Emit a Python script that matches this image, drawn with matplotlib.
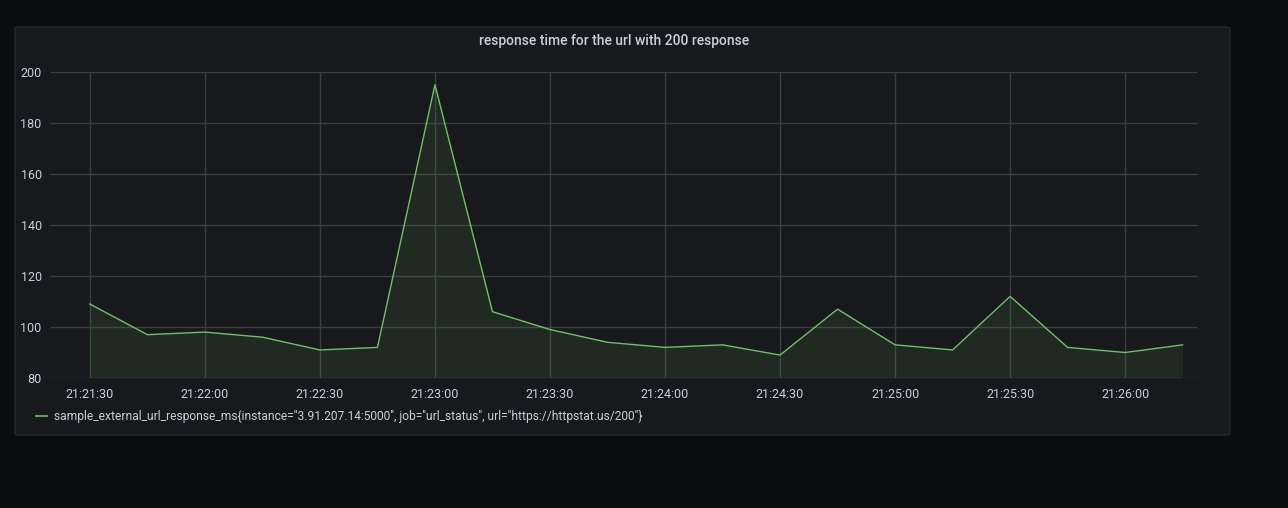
import pandas as pd
import matplotlib
matplotlib.use("Agg")
import matplotlib.pyplot as plt
import matplotlib.dates as mdates
from matplotlib.patches import FancyBboxPatch

# Sample times (every 15 s) and response values in ms
times = ["21:21:30", "21:21:45", "21:22:00", "21:22:15", "21:22:30", "21:22:45",
         "21:23:00", "21:23:15", "21:23:30", "21:23:45", "21:24:00", "21:24:15",
         "21:24:30", "21:24:45", "21:25:00", "21:25:15", "21:25:30", "21:25:45",
         "21:26:00", "21:26:15"]
values = [109, 97, 98, 96, 91, 92, 195, 106, 99, 94, 92, 93, 89, 107, 93, 91,
          112, 92, 90, 93]
yticks = [80, 100, 120, 140, 160, 180, 200]
title = "response time for the url with 200 response"
legend_label = ('sample_external_url_response_ms{instance="3.91.207.14:5000", '
                'job="url_status", url="https://httpstat.us/200"}')

x = pd.to_datetime(["2023-01-01 " + t for t in times])

plt.rcParams['font.family'] = ['Roboto', 'DejaVu Sans']
text_col = "#ccccdc"
line_col = "#73bf69"
grid_col = "#3b3d41"

W, H = 1288, 508
fig = plt.figure(figsize=(W / 100, H / 100), dpi=100)
fig.patch.set_facecolor("#0b0c0e")

# Panel box (drawn behind the axes)
panel = FancyBboxPatch((15 / W, 1 - 435 / H), (1230 - 15) / W, (435 - 27) / H,
                       boxstyle="round,pad=0,rounding_size=0.003",
                       transform=fig.transFigure, facecolor="#18191c",
                       edgecolor="#26272b", linewidth=1, zorder=-5)
fig.patches.append(panel)

ax = fig.add_axes([50 / W, 1 - 378 / H, (1198 - 50) / W, (378 - 72) / H])
ax.set_facecolor("none")
ax.set_zorder(2)

ax.plot(x, values, color=line_col, linewidth=1)
ax.fill_between(x, values, 80, color=line_col, alpha=0.1, linewidth=0)

ax.set_ylim(80, 200)
ax.set_yticks(yticks)
ax.set_xlim(pd.Timestamp("2023-01-01 21:21:19.6"), pd.Timestamp("2023-01-01 21:26:19"))
ax.xaxis.set_major_locator(mdates.SecondLocator(bysecond=[0, 30]))
ax.xaxis.set_major_formatter(mdates.DateFormatter("%H:%M:%S"))

ax.grid(True, color=grid_col, linewidth=1)
ax.set_axisbelow(True)
for s in ax.spines.values():
    s.set_visible(False)
ax.tick_params(axis="both", length=0, colors=text_col, labelsize=9)
ax.tick_params(axis="x", pad=7)
ax.tick_params(axis="y", pad=6)

fig.text(614 / W, 1 - 41 / H, title, color=text_col, fontsize=10,
         fontweight="medium", ha="center", va="center")

# Legend
fig.lines.append(plt.Line2D([36 / W, 47 / W], [1 - 416 / H, 1 - 416 / H],
                            transform=fig.transFigure, color=line_col, linewidth=1.2))
fig.text(54 / W, 1 - 416 / H, legend_label, color=text_col, fontsize=8.65,
         ha="left", va="center")

fig.savefig("out.png", dpi=100, facecolor=fig.get_facecolor())
